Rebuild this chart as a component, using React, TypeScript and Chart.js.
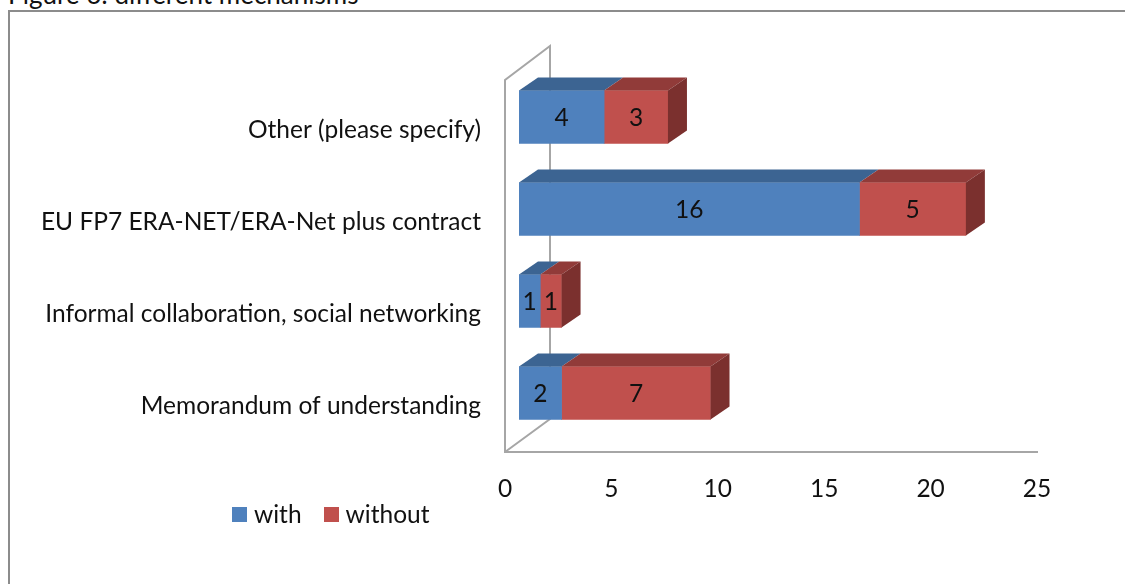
import React, { useEffect, useRef } from "react";
import { Chart, registerables } from "chart.js";

Chart.register(...registerables);

const categories = [
  "Other (please specify)",
  "EU FP7 ERA-NET/ERA-Net plus contract",
  "Informal collaboration, social networking",
  "Memorandum of understanding",
];
const seriesNames = ["with", "without"];
const withValues = [4, 16, 1, 2];
const withoutValues = [3, 5, 1, 7];
const xTicks = [0, 5, 10, 15, 20, 25];

const FONT = "Lato, 'Noto Sans', sans-serif";
const FS = 24.5;
const frontColors = ["#4F81BD", "#C0504D"];
const topColors = ["#3C6492", "#913B39"];
const sideColors = ["#2F4F75", "#7B302E"];
const DX = 14;
const DY = -13;
const DEPTH_X = 19;
const DEPTH_Y = -13;

const bar3d = {
  id: "bar3d",
  beforeDraw(chart: any) {
    const ctx = chart.ctx;
    const a = chart.chartArea;
    ctx.save();
    ctx.strokeStyle = "#A6A6A6";
    ctx.lineWidth = 2;
    const fx = a.left;
    const ftop = a.top - 4;
    const bx = fx + 45;
    ctx.beginPath();
    ctx.moveTo(fx, a.bottom);
    ctx.lineTo(fx, ftop);
    ctx.lineTo(bx, ftop - 34);
    ctx.lineTo(bx, a.bottom - 33);
    ctx.lineTo(fx, a.bottom);
    ctx.stroke();
    ctx.restore();
  },
  beforeDatasetsDraw(chart: any) {
    chart.ctx.save();
    chart.ctx.translate(DX, DY);
  },
  afterDatasetsDraw(chart: any) {
    const ctx = chart.ctx;
    const n = chart.data.datasets.length;
    chart.data.datasets.forEach((ds: any, di: number) => {
      const meta = chart.getDatasetMeta(di);
      meta.data.forEach((el: any) => {
        const { x, y, base, height } = el.getProps(["x", "y", "base", "height"], true);
        const left = Math.min(x, base);
        const right = Math.max(x, base);
        const top = y - height / 2;
        const bottom = y + height / 2;
        ctx.fillStyle = topColors[di];
        ctx.beginPath();
        ctx.moveTo(left, top);
        ctx.lineTo(left + DEPTH_X, top + DEPTH_Y);
        ctx.lineTo(right + DEPTH_X, top + DEPTH_Y);
        ctx.lineTo(right, top);
        ctx.closePath();
        ctx.fill();
        if (di === n - 1) {
          ctx.fillStyle = sideColors[di];
          ctx.beginPath();
          ctx.moveTo(right, top);
          ctx.lineTo(right + DEPTH_X, top + DEPTH_Y);
          ctx.lineTo(right + DEPTH_X, bottom + DEPTH_Y);
          ctx.lineTo(right, bottom);
          ctx.closePath();
          ctx.fill();
        }
      });
    });
    // data labels
    ctx.fillStyle = "#111";
    ctx.font = `${FS}px ${FONT}`;
    ctx.textAlign = "center";
    ctx.textBaseline = "middle";
    chart.data.datasets.forEach((ds: any, di: number) => {
      const meta = chart.getDatasetMeta(di);
      meta.data.forEach((el: any, i: number) => {
        const { x, y, base } = el.getProps(["x", "y", "base"], true);
        ctx.fillText(String(ds.data[i]), (x + base) / 2, y + 1);
      });
    });
    ctx.restore();
  },
};

export default function App() {
  const ref = useRef<HTMLCanvasElement | null>(null);
  useEffect(() => {
    if (!ref.current) return;
    const chart = new Chart(ref.current, {
      type: "bar",
      data: {
        labels: categories,
        datasets: [
          { label: seriesNames[0], data: withValues, backgroundColor: frontColors[0], borderWidth: 0, barThickness: 53 },
          { label: seriesNames[1], data: withoutValues, backgroundColor: frontColors[1], borderWidth: 0, barThickness: 53 },
        ],
      },
      options: {
        indexAxis: "y",
        responsive: false,
        animation: false,
        devicePixelRatio: 1,
        layout: { padding: { left: 0, right: 88, top: 84, bottom: 0 } },
        plugins: { legend: { display: false }, tooltip: { enabled: false } },
        scales: {
          x: {
            stacked: true,
            min: 0,
            max: 25,
            afterBuildTicks: (s: any) => {
              s.ticks = xTicks.map((v) => ({ value: v }));
            },
            afterFit: (s: any) => {
              s.height = 132;
            },
            grid: { display: false },
            border: { display: true, color: "#A6A6A6", width: 2 },
            ticks: { font: { size: FS, family: FONT }, color: "#111", padding: 14 },
          },
          y: {
            stacked: true,
            afterFit: (s: any) => {
              s.width = 505;
            },
            grid: { display: false },
            border: { display: false },
            ticks: { font: { size: FS, family: FONT }, color: "#111", padding: 16 },
          },
        },
      },
      plugins: [bar3d],
    } as any);
    return () => chart.destroy();
  }, []);

  return (
    <div style={{ position: "fixed", left: 0, top: 0, width: 1125, height: 584, overflow: "hidden", background: "#fff", fontFamily: FONT }}>
      <div style={{ position: "absolute", left: 8, top: -19, fontSize: 26, lineHeight: "26px", color: "#111", whiteSpace: "nowrap" }}>
        Figure 6: different mechanisms
      </div>
      <div style={{ position: "absolute", left: 8, top: 10, width: 1200, height: 700, border: "2px solid #8C8C8C", boxSizing: "border-box" }} />
      <canvas ref={ref} width={1125} height={584} style={{ position: "absolute", left: 0, top: 0 }} />
      <div style={{ position: "absolute", left: 232, top: 500, display: "flex", alignItems: "center", fontSize: FS, color: "#111", lineHeight: "28px" }}>
        <span style={{ display: "inline-block", width: 15, height: 15, background: frontColors[0], marginRight: 7 }} />
        <span style={{ marginRight: 22 }}>{seriesNames[0]}</span>
        <span style={{ display: "inline-block", width: 15, height: 15, background: frontColors[1], marginRight: 7 }} />
        <span>{seriesNames[1]}</span>
      </div>
    </div>
  );
}
